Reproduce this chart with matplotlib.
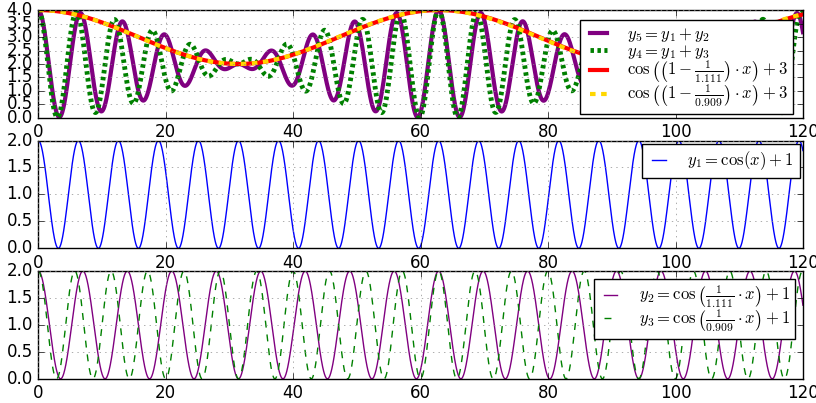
import numpy as np
import matplotlib
matplotlib.use("Agg")
import matplotlib.pyplot as plt

# constants
periods = [1.0, 1.111, 0.909]   # y1, y2, y3 : cos(x / p) + 1
offset_low = 1.0
offset_env = 3.0
x_range = [0, 120]

x = np.linspace(x_range[0], x_range[1], 3000)
y1 = np.cos(x / periods[0]) + offset_low
y2 = np.cos(x / periods[1]) + offset_low
y3 = np.cos(x / periods[2]) + offset_low
y5 = y1 + y2
y4 = y1 + y3
env_a = np.cos((1 - 1 / periods[1]) * x) + offset_env
env_b = np.cos((1 - 1 / periods[2]) * x) + offset_env

plt.style.use('classic')
plt.rcParams['figure.facecolor'] = 'white'
plt.rcParams['savefig.facecolor'] = 'white'
plt.rcParams['mathtext.fontset'] = 'cm'
plt.rcParams['font.size'] = 10
plt.rcParams['grid.color'] = '0.55'

fig, (ax1, ax2, ax3) = plt.subplots(3, 1, figsize=(8.16, 4.03), dpi=100)
fig.subplots_adjust(left=0.047, right=0.984, top=0.975, bottom=0.06, hspace=0.21)

ax1.plot(x, y5, color='purple', lw=3, label=r'$y_5 = y_1 + y_2$')
ax1.plot(x, y4, color='green', lw=3.5, dashes=(2.5, 2.5), label=r'$y_4 = y_1 + y_3$')
ax1.plot(x, env_a, color='red', lw=3, label=r'$\cos\left(\left(1-\frac{1}{1.111}\right)\cdot x\right)+3$')
ax1.plot(x, env_b, color='gold', lw=3, dashes=(4, 4), label=r'$\cos\left(\left(1-\frac{1}{0.909}\right)\cdot x\right)+3$')
ax1.set_ylim(0, 4)
ax1.set_yticks(np.arange(0, 4.01, 0.5))
ax1.legend(loc='upper right', fontsize=12, labelspacing=-0.12, borderpad=0.3,
           handlelength=1.6, handletextpad=0.9, borderaxespad=0.6)

ax2.plot(x, y1, color='blue', lw=1, label=r'$y_1 = \cos(x)+1$')
ax2.set_ylim(0, 2)
ax2.set_yticks(np.arange(0, 2.01, 0.5))
ax2.legend(loc='upper right', fontsize=12, handlelength=1.4, handletextpad=1.0,
           borderpad=0.35, borderaxespad=0.2)

ax3.plot(x, y2, color='purple', lw=1, label=r'$y_2 = \cos\left(\frac{1}{1.111}\cdot x\right)+1$')
ax3.plot(x, y3, color='green', lw=1, dashes=(5, 5), label=r'$y_3 = \cos\left(\frac{1}{0.909}\cdot x\right)+1$')
ax3.set_ylim(0, 2)
ax3.set_yticks(np.arange(0, 2.01, 0.5))
ax3.legend(loc='upper right', fontsize=12, labelspacing=-0.15, handlelength=1.4,
           handletextpad=1.0, borderpad=0.3)

for ax in (ax1, ax2, ax3):
    ax.set_xlim(x_range)
    ax.set_xticks(np.arange(0, 121, 20))
    ax.grid(True)
    ax.tick_params(labelsize=12)

plt.savefig('out.png', dpi=100)
